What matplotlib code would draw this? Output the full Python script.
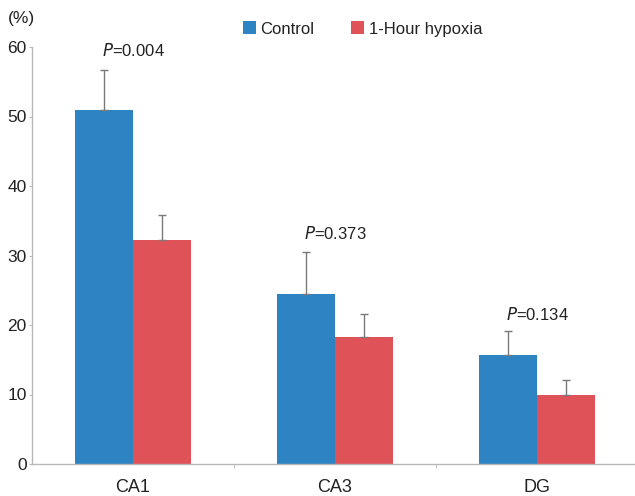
import matplotlib
matplotlib.use("Agg")
import matplotlib.pyplot as plt
import numpy as np

categories = ["CA1", "CA3", "DG"]
control = [50.9, 24.5, 15.7]
control_err = [5.8, 6.0, 3.4]
hypoxia = [32.3, 18.3, 9.9]
hypoxia_err = [3.5, 3.3, 2.2]
p_labels = ["0.004", "0.373", "0.134"]
p_y = [59.5, 33.2, 21.5]
yticks = [0, 10, 20, 30, 40, 50, 60]

plt.rcParams["font.family"] = ["Liberation Sans", "DejaVu Sans"]

blue = "#2e84c2"
red = "#df5358"
grey = "#b8b8b8"
txt = "#222222"

fig = plt.figure(figsize=(6.35, 4.96), dpi=100)
ax = fig.add_axes([32/635, 1-464/496, 606/635, (464-47)/496])

x = np.arange(len(categories))
w = 0.287
ax.bar(x - w/2, control, w, color=blue, label="Control")
ax.bar(x + w/2, hypoxia, w, color=red, label="1-Hour hypoxia")
ax.errorbar(x - w/2, control, yerr=[np.zeros(3), control_err], fmt="none",
            ecolor="#7a7a7a", elinewidth=1, capsize=3, capthick=1)
ax.errorbar(x + w/2, hypoxia, yerr=[np.zeros(3), hypoxia_err], fmt="none",
            ecolor="#7a7a7a", elinewidth=1, capsize=3, capthick=1)

for xi, p, py in zip(x, p_labels, p_y):
    ax.text(xi, py, r"$\it{P}$" + "=" + p, ha="center", va="center",
            fontsize=12, color=txt)

ax.set_xlim(-0.5, 2.5)
ax.set_ylim(0, 60)
ax.set_yticks(yticks)
ax.set_xticks(x)
ax.set_xticklabels(categories)
ax.set_xticks([0.5, 1.5], minor=True)
ax.tick_params(axis="x", which="major", length=0, pad=11, labelsize=13, colors=txt)
ax.tick_params(axis="x", which="minor", length=3, direction="out", color=grey)
ax.tick_params(axis="y", length=2.2, color=grey, labelsize=12.5, labelcolor=txt, pad=1.5)
for s in ["top", "right"]:
    ax.spines[s].set_visible(False)
for s in ["left", "bottom"]:
    ax.spines[s].set_color(grey)
    ax.spines[s].set_linewidth(1)

fig.text(8/635, 1-19/496, "(%)", fontsize=12.5, va="center", ha="left", color=txt)

leg = ax.legend(loc="center left", bbox_to_anchor=(243/635, 1-29/496), bbox_transform=fig.transFigure,
                ncol=2, frameon=False, fontsize=12, handlelength=0.8, handleheight=0.8,
                handletextpad=0.25, columnspacing=2.2, borderaxespad=0, borderpad=0)
for t in leg.get_texts():
    t.set_color(txt)

fig.savefig("out.png", dpi=100)
